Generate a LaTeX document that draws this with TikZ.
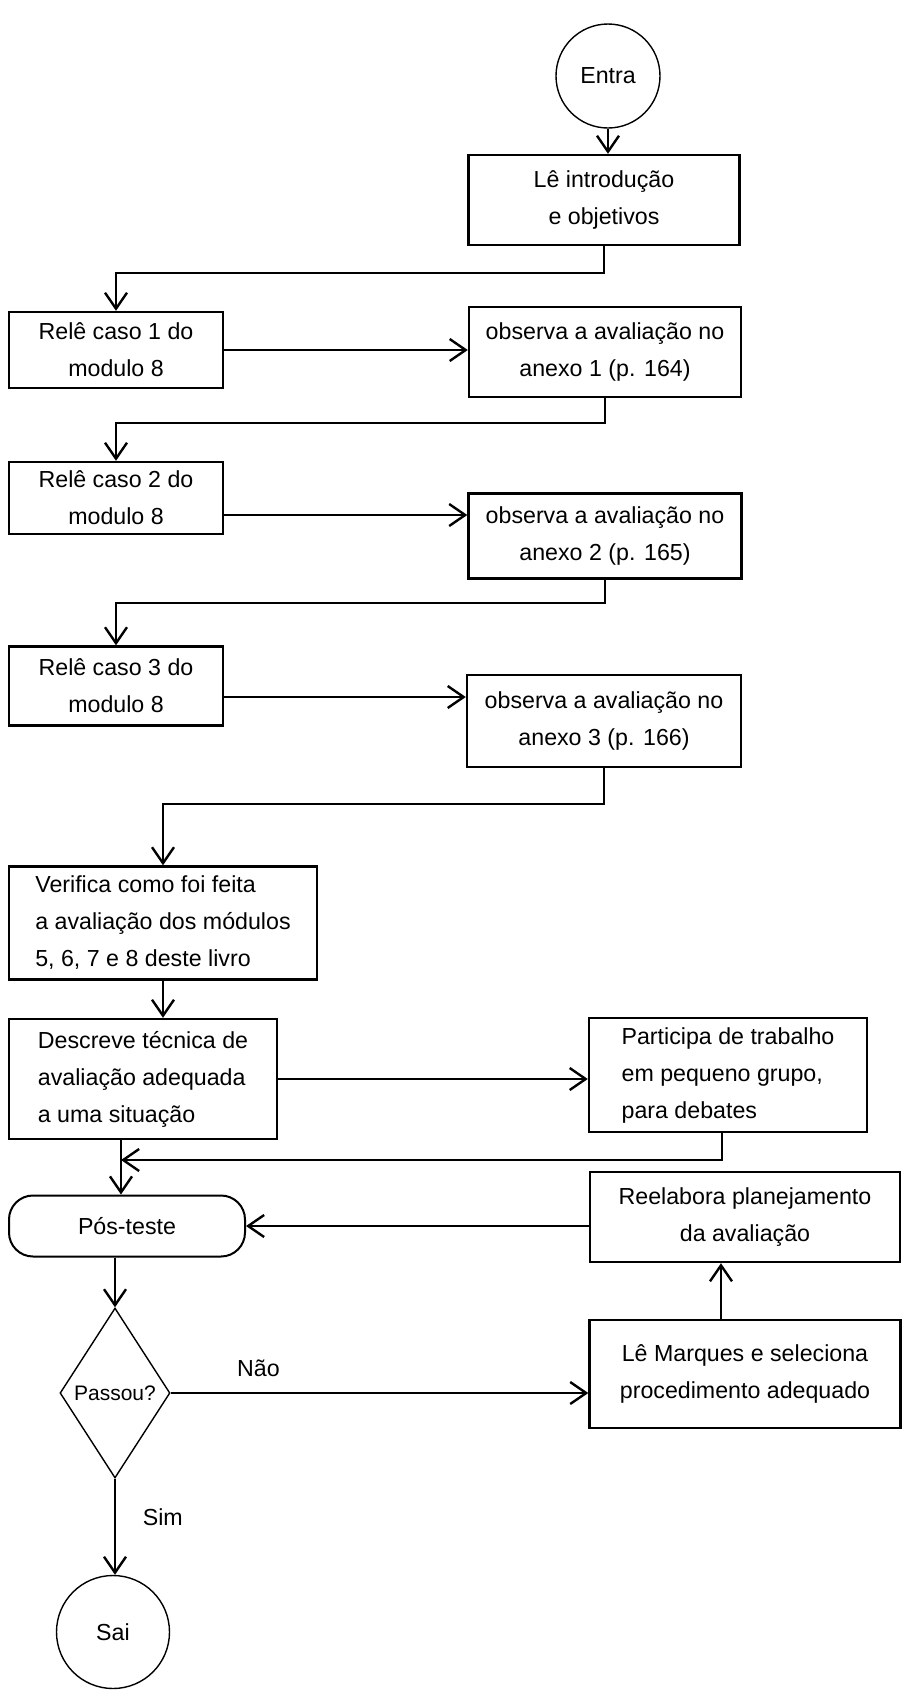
\documentclass[tikz,border=0pt]{standalone}
\usepackage{fontspec}
\setmainfont{Liberation Sans}
\usetikzlibrary{shapes.geometric,arrows.meta}

\begin{document}
\begin{tikzpicture}[x=0.5pt,y=-0.5pt,>={Straight Barb[length=8pt,width=11pt]},every node/.style={font=\fontsize{11.6pt}{18.5pt}\selectfont},box/.style={shape=rectangle,draw=black,line width=1.2pt,align=center},boxL/.style={box,align=left},term/.style={shape=circle,draw=black,line width=0.7pt},test/.style={shape=diamond,draw=black,line width=0.7pt,inner sep=0pt,aspect=0.65,font=\fontsize{10.5pt}{12pt}\selectfont},pill/.style={box,rounded corners=12pt,line width=1pt},flow/.style={->,line width=1.2pt}]
\useasboundingbox (0,0) rectangle (905,1698);

\node[term,minimum size=52pt] (entra) at (608,76) {Entra};
\node[box,minimum width=135.5pt,minimum height=45pt] (intro) at (604,200) {Lê introdução\\e objetivos};

\node[box,minimum width=107pt,minimum height=38pt] (rele1) at (116,350) {Relê caso 1 do\\modulo 8};
\node[box,minimum width=136pt,minimum height=45pt] (obs1) at (605,352) {observa a avaliação no\\anexo 1 (p. 164)};
\node[box,minimum width=107pt,minimum height=36pt] (rele2) at (116,498) {Relê caso 2 do\\modulo 8};
\node[box,minimum width=136.5pt,minimum height=42.5pt] (obs2) at (605,536) {observa a avaliação no\\anexo 2 (p. 165)};
\node[box,minimum width=107pt,minimum height=39.5pt] (rele3) at (116,686) {Relê caso 3 do\\modulo 8};
\node[box,minimum width=137pt,minimum height=46pt] (obs3) at (604,721) {observa a avaliação no\\anexo 3 (p. 166)};

\node[boxL,minimum width=154pt,minimum height=56.5pt] (verif) at (163,923) {Verifica como foi feita\\a avaliação dos módulos\\5, 6, 7 e 8 deste livro};
\node[boxL,minimum width=134pt,minimum height=60pt] (descr) at (143,1079) {Descreve técnica de\\avaliação adequada\\a uma situação};
\node[boxL,minimum width=139pt,minimum height=57pt] (partic) at (728,1075) {Participa de trabalho\\em pequeno grupo,\\para debates};

\node[pill,minimum width=118pt,minimum height=30.5pt] (pos) at (127,1226) {Pós-teste};
\node[box,minimum width=155pt,minimum height=45pt] (reelab) at (745,1217) {Reelabora planejamento\\da avaliação};
\node[test,minimum width=55pt,minimum height=85pt] (passou) at (115,1393) {Passou?};
\node[box,minimum width=155.5pt,minimum height=54pt] (marques) at (745,1374) {Lê Marques e seleciona\\procedimento adequado};
\node[term,minimum size=56.5pt] (sai) at (113,1632) {Sai};

\draw[flow] (entra.south) -- (entra.south |- intro.north);
\draw[flow] (intro.south) -- ++(0,27) -| (rele1.north);
\draw[flow] (rele1.east) -- (rele1.east -| obs1.west);
\draw[flow] (obs1.south) -- ++(0,25) -| (rele2.north);
\draw[flow] ([yshift=-8.5pt]rele2.east) -- ([yshift=-8.5pt]rele2.east -| obs2.west);
\draw[flow] (obs2.south) -- ++(0,23) -| (rele3.north);
\draw[flow] ([yshift=-5.5pt]rele3.east) -- ([yshift=-5.5pt]rele3.east -| obs3.west);
\draw[flow] (obs3.south) -- ++(0,36) -| (verif.north);
\draw[flow] (verif.south) -- (verif.south |- descr.north);
\draw[flow] (descr.east) -- (descr.east -| partic.west);
\draw[flow] ([xshift=-11pt]descr.south) -- ([xshift=-11pt]descr.south |- pos.north);
\coordinate (merge) at (121,1160);
\draw[flow] ([xshift=-3pt]partic.south) |- (merge);
\draw[flow] (reelab.west |- pos.east) -- (pos.east);
\draw[flow] (pos.south -| passou.north) -- (passou.north);
\draw[flow] (passou.east) -- node[pos=0.21,above=4pt] {Não} (passou.east -| marques.west);
\draw[flow] (passou.south) -- node[pos=0.4,right=10pt] {Sim} (passou.south |- sai.north);
\draw[flow] ([xshift=-12pt]marques.north) -- ([xshift=-12pt]marques.north |- reelab.south);
\end{tikzpicture}
\end{document}
